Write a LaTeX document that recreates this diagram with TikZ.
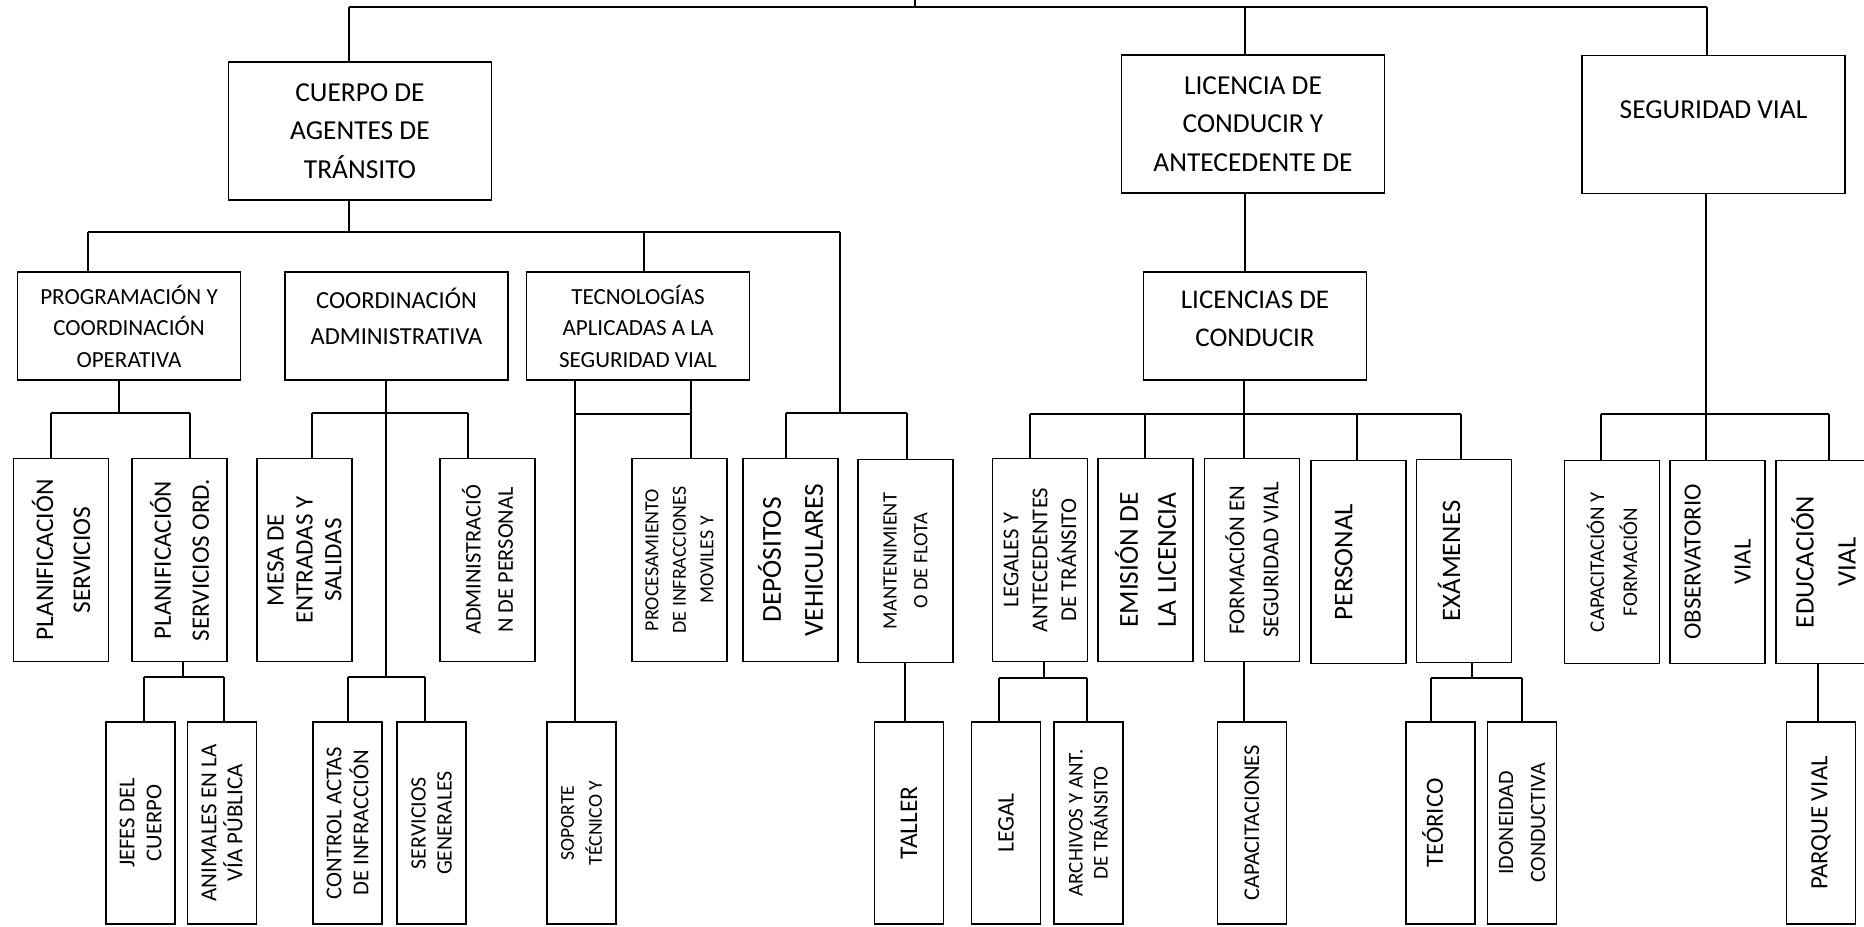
\documentclass[tikz,border=0pt]{standalone}
\usepackage{fontspec}
\setmainfont{Carlito}
\newcommand{\fsz}[2]{\fontsize{#1}{#2}\selectfont}

\begin{document}
\begin{tikzpicture}[x=0.25mm, y=-0.25mm, line width=1.3pt,
    box/.style={draw, align=center, inner sep=1pt},
    lone/.style={box, minimum width=65.75mm, minimum height=34.5mm, font=\fsz{19.5}{27.4}},
    ltwo/.style={box, minimum width=55.75mm, minimum height=27mm, font=\fsz{16.4}{22.4}},
    lthree/.style={box, rotate=90, minimum width=50.75mm, minimum height=23.75mm},
    lfour/.style={box, rotate=90, minimum width=50.5mm, minimum height=17.25mm}]

      \useasboundingbox (0, 0) rectangle (1864, 926);

      % Level one
      \node [lone] at (360, 131) (cuerpo) {CUERPO DE\\AGENTES DE\\TRÁNSITO};
      \node [lone] at (1253, 124) (licencia) {LICENCIA DE\\CONDUCIR Y\\ANTECEDENTE DE};
      \node [lone, text depth=7.25mm] at (1713.5, 124.5) (segvial) {SEGURIDAD VIAL};

      % Level two
      \node [ltwo] at (129, 326) (prog) {PROGRAMACIÓN Y\\COORDINACIÓN\\OPERATIVA};
      \node [ltwo, font=\fsz{17.4}{25.6}, text depth=5mm] at (396.5, 326) (coord) {COORDINACIÓN\\ADMINISTRATIVA};
      \node [ltwo] at (638, 326) (tecno) {TECNOLOGÍAS\\APLICADAS A LA\\SEGURIDAD VIAL};
      \node [ltwo, font=\fsz{19.2}{27}, text depth=3.5mm] at (1255, 326) (licencias) {LICENCIAS DE\\CONDUCIR};

      % Level three
      \node [lthree, font=\fsz{18.1}{26.3}] at (61, 560) (planif) {PLANIFICACIÓN\\SERVICIOS};
      \node [lthree, font=\fsz{17.8}{27}] at (179.5, 560) (planord) {PLANIFICACIÓN\\SERVICIOS ORD.};
      \node [lthree, font=\fsz{17.8}{20.6}] at (304.5, 560) (mesa) {MESA DE\\ENTRADAS Y\\SALIDAS};
      \node [lthree, font=\fsz{15.9}{22.8}] at (487.5, 560) (admin) {ADMINISTRACIÓ\\N DE PERSONAL};
      \node [lthree, font=\fsz{14.2}{19.6}] at (679.5, 560) (proces) {PROCESAMIENTO\\DE INFRACCIONES\\MOVILES Y};
      \node [lthree, font=\fsz{19.5}{29.9}] at (790.5, 560) (depos) {DEPÓSITOS\\VEHICULARES};
      \node [lthree, font=\fsz{14.5}{22}] at (905.5, 561) (mant) {MANTENIMIENT\\O DE FLOTA};
      \node [lthree, font=\fsz{16.1}{20.6}] at (1040, 560) (legales) {LEGALES Y\\ANTECEDENTES\\DE TRÁNSITO};
      \node [lthree, font=\fsz{19.5}{27}] at (1145.5, 560) (emision) {EMISIÓN DE\\LA LICENCIA};
      \node [lthree, font=\fsz{16.2}{24.2}] at (1252, 560) (formac) {FORMACIÓN EN\\SEGURIDAD VIAL};
      \node [lthree, font=\fsz{19.2}{27}, text depth=7.5mm] at (1358.5, 562) (personal) {PERSONAL};
      \node [lthree, font=\fsz{19}{27}, text depth=7.5mm] at (1464, 561) (examenes) {EXÁMENES};
      \node [lthree, font=\fsz{14.9}{23.5}] at (1612, 562) (capform) {CAPACITACIÓN Y\\FORMACIÓN};
      \node [lthree, font=\fsz{17.6}{35.6}] at (1717.5, 562) (observ) {OBSERVATORIO\\VIAL};
      \node [lthree, font=\fsz{19}{29.9}] at (1823.5, 562) (educ) {EDUCACIÓN\\VIAL};

      % Level four
      \node [lfour, font=\fsz{16.1}{19.2}] at (140.5, 823) (jefes) {JEFES DEL\\CUERPO};
      \node [lfour, font=\fsz{16.3}{18.5}] at (222, 823) (animales) {ANIMALES EN LA\\VÍA PÚBLICA};
      \node [lfour, font=\fsz{16.1}{19.2}] at (347.5, 823) (control) {CONTROL ACTAS\\DE INFRACCIÓN};
      \node [lfour, font=\fsz{15.6}{18.5}] at (431.5, 823) (servgen) {SERVICIOS\\GENERALES};
      \node [lfour, font=\fsz{14}{19.9}] at (581.5, 823) (soporte) {SOPORTE\\TÉCNICO Y};
      \node [lfour, font=\fsz{18.1}{25}] at (909, 823) (taller) {TALLER};
      \node [lfour, font=\fsz{16.8}{24}] at (1006, 823) (legal) {LEGAL};
      \node [lfour, font=\fsz{14.9}{17.8}] at (1088.5, 823) (archivos) {ARCHIVOS Y ANT.\\DE TRÁNSITO};
      \node [lfour, font=\fsz{16}{23}] at (1252, 823) (capacit) {CAPACITACIONES};
      \node [lfour, font=\fsz{17.6}{25}, text depth=4mm] at (1440.5, 823) (teorico) {TEÓRICO};
      \node [lfour, font=\fsz{15.6}{22.8}] at (1522, 823) (idoneidad) {IDONEIDAD\\CONDUCTIVA};
      \node [lfour, font=\fsz{17.6}{25}] at (1821, 823) (parque) {PARQUE VIAL};

      % Root line
      \coordinate (root) at (915, 0);
      \coordinate (ta) at (349, 7);
      \coordinate (tb) at (1245, 7);
      \coordinate (tc) at (1707, 7);
      \draw (root) -- (root |- ta);
      \draw (ta) -- (tc);
      \draw (ta) -- (ta |- cuerpo.north);
      \draw (tb) -- (tb |- licencia.north);
      \draw (tc) -- (tc |- segvial.north);

      % Cuerpo de agentes
      \coordinate (ca) at (88, 232);
      \coordinate (cb) at (644, 232);
      \coordinate (cc) at (840, 232);
      \draw (ta |- cuerpo.south) -- (ta |- ca);
      \draw (ca) -- (cc);
      \draw (ca) -- (ca |- prog.north);
      \draw (cb) -- (cb |- tecno.north);
      \coordinate (cd) at (840, 413);
      \coordinate (ce) at (786, 413);
      \coordinate (cf) at (907, 413);
      \draw (cc) -- (cd);
      \draw (ce) -- (cf);
      \draw (ce) -- (ce |- depos.east);
      \draw (cf) -- (cf |- mant.east);

      % Programacion
      \coordinate (pa) at (51, 413);
      \coordinate (pb) at (119, 413);
      \coordinate (pc) at (190, 413);
      \draw (pb |- prog.south) -- (pb);
      \draw (pa) -- (pc);
      \draw (pa) -- (pa |- planif.east);
      \draw (pc) -- (pc |- planord.east);
      \coordinate (qa) at (144, 677);
      \coordinate (qb) at (183, 677);
      \coordinate (qc) at (224, 677);
      \draw (qb |- planord.west) -- (qb);
      \draw (qa) -- (qc);
      \draw (qa) -- (qa |- jefes.east);
      \draw (qc) -- (qc |- animales.east);

      % Coordinacion
      \coordinate (ka) at (312, 413);
      \coordinate (kb) at (386, 413);
      \coordinate (kc) at (468, 413);
      \coordinate (kd) at (348, 677);
      \coordinate (ke) at (386, 677);
      \coordinate (kf) at (425, 677);
      \draw (kb |- coord.south) -- (ke);
      \draw (ka) -- (kc);
      \draw (ka) -- (ka |- mesa.east);
      \draw (kc) -- (kc |- admin.east);
      \draw (kd) -- (kf);
      \draw (kd) -- (kd |- control.east);
      \draw (kf) -- (kf |- servgen.east);

      % Tecnologias
      \coordinate (ea) at (575, 414);
      \coordinate (eb) at (691, 414);
      \draw (ea |- tecno.south) -- (ea |- soporte.east);
      \draw (eb |- tecno.south) -- (eb |- proces.east);
      \draw (ea) -- (eb);

      % Mantenimiento
      \coordinate (ma) at (905, 690);
      \draw (ma |- mant.west) -- (ma |- taller.east);

      % Licencias
      \draw (tb |- licencia.south) -- (tb |- licencias.north);
      \coordinate (la) at (1030, 414);
      \coordinate (lb) at (1145, 414);
      \coordinate (lc) at (1244, 414);
      \coordinate (ld) at (1357, 414);
      \coordinate (le) at (1461, 414);
      \draw (lc |- licencias.south) -- (lc |- formac.east);
      \draw (la) -- (le);
      \draw (la) -- (la |- legales.east);
      \draw (lb) -- (lb |- emision.east);
      \draw (ld) -- (ld |- personal.east);
      \draw (le) -- (le |- examenes.east);
      \draw (lc |- formac.west) -- (lc |- capacit.east);

      % Legales
      \coordinate (ga) at (999, 678);
      \coordinate (gb) at (1044, 678);
      \coordinate (gc) at (1087, 678);
      \draw (gb |- legales.west) -- (gb);
      \draw (ga) -- (gc);
      \draw (ga) -- (ga |- legal.east);
      \draw (gc) -- (gc |- archivos.east);

      % Examenes
      \coordinate (xa) at (1431, 678);
      \coordinate (xb) at (1472, 678);
      \coordinate (xc) at (1522, 678);
      \draw (xb |- examenes.west) -- (xb);
      \draw (xa) -- (xc);
      \draw (xa) -- (xa |- teorico.east);
      \draw (xc) -- (xc |- idoneidad.east);

      % Seguridad vial
      \coordinate (sa) at (1601, 414);
      \coordinate (sb) at (1706, 414);
      \coordinate (sc) at (1829, 414);
      \draw (sb |- segvial.south) -- (sb);
      \draw (sa) -- (sc);
      \draw (sa) -- (sa |- capform.east);
      \draw (sb) -- (sb |- observ.east);
      \draw (sc) -- (sc |- educ.east);
      \coordinate (ua) at (1818, 690);
      \draw (ua |- educ.west) -- (ua |- parque.east);
  \end{tikzpicture}
\end{document}
